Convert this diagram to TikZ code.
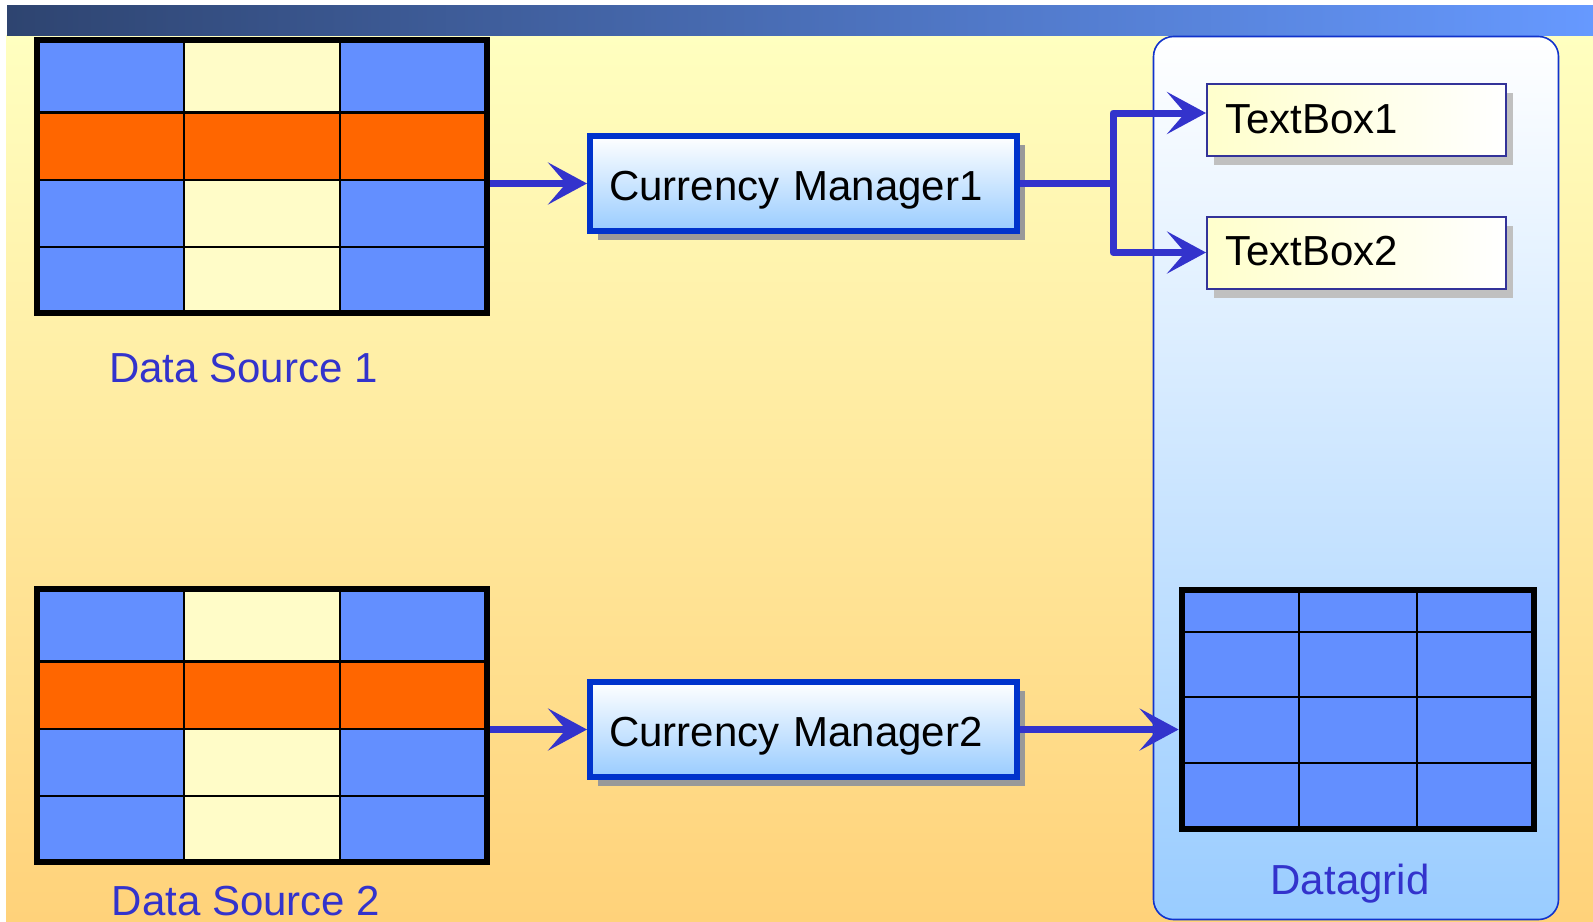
\documentclass[tikz,border=0pt]{standalone}
\usepackage{fontspec}
\setmainfont{Liberation Sans}
\usetikzlibrary{arrows.meta,shadows,fit,calc}

\definecolor{barL}{HTML}{2E4470}
\definecolor{barR}{HTML}{6699FF}
\definecolor{bgTop}{HTML}{FFFFC0}
\definecolor{bgBot}{HTML}{FFD27A}
\definecolor{cellBlue}{HTML}{638FFF}
\definecolor{cellCream}{HTML}{FFFCC8}
\definecolor{cellOrange}{HTML}{FF6600}
\definecolor{arrowBlue}{HTML}{3333CC}
\definecolor{cmBorder}{HTML}{0033CC}
\definecolor{cmBot}{HTML}{99CCFF}
\definecolor{tbBorder}{HTML}{333399}
\definecolor{tbLeft}{HTML}{FFFFCC}
\definecolor{shadowDark}{HTML}{999999}
\definecolor{shadowLight}{HTML}{C0C0C0}
\definecolor{panelBorder}{HTML}{1133CC}

\newcommand\dsTable[2]{%
  \begin{scope}[shift={(0,#2)}]
    \fill[cellBlue] (34,0) rectangle (490,279);
    \fill[cellCream] (184,0) rectangle (340,279);
    \fill[cellOrange] (34,75.5) rectangle (490,143);
    \draw[gridline] (184,0) -- (184,279) (340,0) -- (340,279)
      (34,75.5) -- (490,75.5) (34,143) -- (490,143) (34,210) -- (490,210);
    \draw[frameline] (37,3) rectangle (487,276);
    \coordinate (#1nw) at (34,0);
    \coordinate (#1se) at (490,279);
  \end{scope}
  \node[fit=(#1nw)(#1se), inner sep=0pt] (#1) {};
}

\begin{document}
\begin{tikzpicture}[x=0.5pt, y=-0.5pt,
  txt/.style={font=\fontsize{21pt}{25pt}\selectfont},
  lbl/.style={txt, text=arrowBlue, inner sep=0pt, anchor=base},
  gridline/.style={draw=black, line width=1.25pt},
  frameline/.style={draw=black, line width=3pt},
  cmbox/.style={txt, draw=cmBorder, line width=3pt, top color=white, bottom color=cmBot,
    minimum width=213.5pt, minimum height=47.5pt, text width=194.5pt, align=left,
    inner xsep=9.5pt, inner ysep=0pt, text height=16.5pt, text depth=0pt,
    drop shadow={shadow xshift=4pt, shadow yshift=-4.5pt, fill=shadowDark, opacity=1}},
  tbbox/.style={txt, draw=tbBorder, line width=1pt, left color=tbLeft, right color=white,
    minimum width=149.5pt, minimum height=36pt, text width=131.5pt, align=left,
    inner xsep=9pt, inner ysep=0pt, text height=13pt, text depth=0pt,
    drop shadow={shadow xshift=3.5pt, shadow yshift=-4.5pt, fill=shadowLight, opacity=1}},
  panelbox/.style={draw=panelBorder, line width=0.8pt, rounded corners=10pt,
    top color=white, bottom color=cmBot, minimum width=202.5pt, minimum height=441.5pt, inner sep=0pt},
  conn/.style={draw=arrowBlue, line width=3.5pt, line join=round,
    -{Stealth[length=19.5pt, width=21pt, inset=9pt]}}
]
\useasboundingbox (0,0) rectangle (1593,921);
\fill[white] (0,0) rectangle (1593,921);
\fill[top color=bgTop, bottom color=bgBot] (6,35) rectangle (1593,921);
\fill[left color=barL, right color=barR] (7,5) rectangle (1593,35);

% right panel
\node[panelbox] (panel) at (1356,478) {};

% data sources
\dsTable{t1}{37}
\dsTable{t2}{586}

% datagrid
\fill[cellBlue] (1179,587) rectangle (1537,832);
\draw[gridline] (1299,587) -- (1299,832) (1417,587) -- (1417,832)
  (1179,632) -- (1537,632) (1179,697) -- (1537,697) (1179,763) -- (1537,763);
\draw[frameline] (1182,590) rectangle (1534,829);
\coordinate (dgnw) at (1179,587);
\coordinate (dgse) at (1537,832);
\node[fit=(dgnw)(dgse), inner sep=0pt] (dg) {};

% boxes
\node[cmbox] (cm1) at (803.5,183.5) {Currency Manager1};
\node[cmbox] (cm2) at (803.5,729.5) {Currency Manager2};
\node[tbbox] (tb1) at (1356.5,120) {TextBox1};
\node[tbbox] (tb2) at (1356.5,252.5) {TextBox2};

% labels
\node[lbl] (ds1lbl) at (243.5,382) {Data Source 1};
\node[lbl] (ds2lbl) at (246,915) {Data Source 2};
\node[lbl] (dglbl) at (1350,894) {Datagrid};

% connectors
\draw[conn] (t1.east |- cm1.west) -- (cm1.west);
\draw[conn] (t2.east |- cm2.west) -- (cm2.west);
\coordinate (split) at (1113,183.5);
\draw[conn] (cm1.east) -- (split) |- ([yshift=3.5pt]tb1.west);
\draw[conn] (split) |- (tb2.west);
\draw[conn] (cm2.east) -- (cm2.east -| dg.west);
\end{tikzpicture}
\end{document}
